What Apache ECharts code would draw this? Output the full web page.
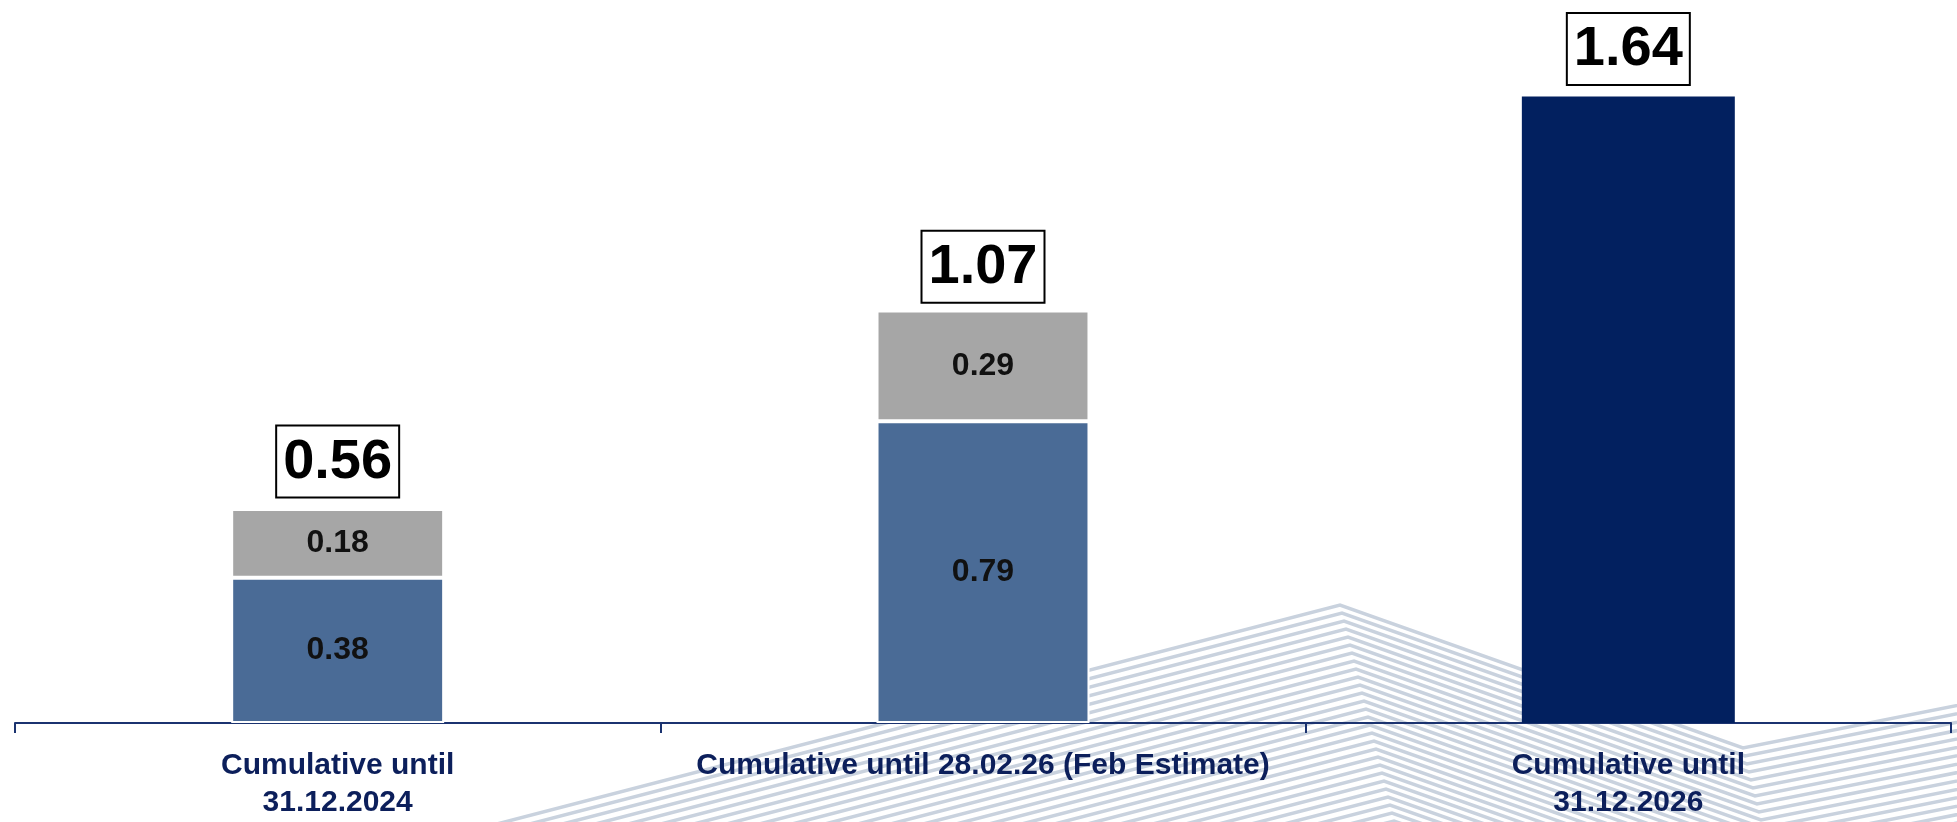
<!DOCTYPE html>
<html>
<head>
<meta charset="utf-8">
<script src="https://cdn.jsdelivr.net/npm/echarts@6/dist/echarts.min.js"></script>
<style>
  html, body { margin: 0; padding: 0; background: #fff; }
  #main { width: 1957px; height: 822px; }
</style>
</head>
<body>
<div id="main"></div>
<script>
// chart values
var categories = [
  "Cumulative until\n31.12.2024",
  "Cumulative until 28.02.26 (Feb Estimate)",
  "Cumulative until\n31.12.2026"
];
var baseValues = [0.38, 0.79, null];   // steel blue segment
var addValues = [0.18, 0.29, null];    // grey segment
var finalValues = [null, null, 1.64];  // navy bar
var totals = [0.56, 1.07, 1.64];

var FONT = "Liberation Sans";

// background chevron stripes (decoration only)
function stripes() {
  var base = [[-200, 1005], [1340, 605], [1743, 748], [2100, 677]];
  var els = [];
  for (var k = 0; k < 36; k++) {
    var pts = base.map(function (p) { return [p[0] + 2 * k, p[1] + 8 * k]; });
    els.push({
      type: "polyline",
      silent: true,
      z: -10,
      shape: { points: pts },
      style: { stroke: "#c9d2de", lineWidth: 3.5, fill: null }
    });
  }
  return els;
}

var myChart = echarts.init(document.getElementById("main"));
var option = {
  animation: false,
  backgroundColor: "#fff",
  graphic: stripes(),
  grid: { left: 15, right: 6, top: 22, bottom: 99 },
  xAxis: {
    type: "category",
    data: categories,
    axisLine: { lineStyle: { color: "#1b3370", width: 2 } },
    axisTick: { show: true, length: 10, lineStyle: { color: "#1b3370", width: 2 } },
    axisLabel: {
      interval: 0,
      margin: 24,
      color: "#0c1f5b",
      fontFamily: FONT,
      fontWeight: "bold",
      fontSize: 30,
      lineHeight: 37
    }
  },
  yAxis: { type: "value", min: 0, max: 1.835, show: false },
  series: [
    {
      name: "base",
      type: "bar",
      stack: "total",
      barWidth: "33%",
      data: baseValues,
      itemStyle: { color: "#4a6b96", borderColor: "#fff", borderWidth: 2 },
      label: {
        show: true, position: "inside",
        color: "#111", fontFamily: FONT, fontWeight: "bold", fontSize: 32
      }
    },
    {
      name: "add",
      type: "bar",
      stack: "total",
      data: addValues,
      itemStyle: { color: "#a6a6a6", borderColor: "#fff", borderWidth: 2 },
      label: {
        show: true, position: "inside",
        color: "#111", fontFamily: FONT, fontWeight: "bold", fontSize: 32
      }
    },
    {
      name: "final",
      type: "bar",
      stack: "total",
      data: finalValues,
      itemStyle: { color: "#02205f" }
    },
    {
      name: "total",
      type: "line",
      data: totals,
      symbol: "circle",
      symbolSize: 1,
      itemStyle: { color: "rgba(0,0,0,0)" },
      lineStyle: { width: 0, opacity: 0 },
      label: {
        show: true,
        position: "top",
        distance: 12,
        color: "#000",
        fontFamily: FONT,
        fontWeight: "bold",
        fontSize: 56,
        lineHeight: 58,
        padding: [7, 6, 5, 6],
        backgroundColor: "#fff",
        borderColor: "#000",
        borderWidth: 2,
        formatter: function (p) { return p.value.toFixed(2); }
      }
    }
  ]
};
option && myChart.setOption(option);
</script>
</body>
</html>
